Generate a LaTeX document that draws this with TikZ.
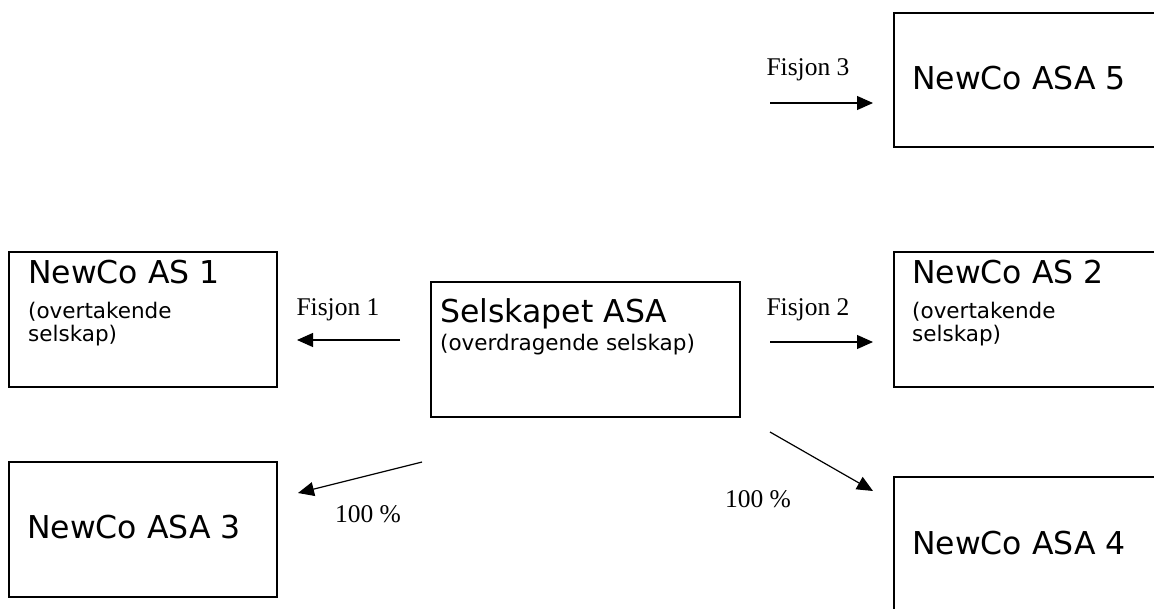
\documentclass[tikz,border=0pt]{standalone}
\usepackage{fontspec}
\setmainfont{Liberation Serif}
\newfontfamily\vsans{DejaVu Sans}
\usetikzlibrary{arrows.meta}
\tikzset{
  box/.style={draw, line width=1.3pt, rectangle, inner sep=0pt},
  title/.style={anchor=base west, inner sep=0pt, font=\vsans\fontsize{31.5}{36}\selectfont},
  sub/.style={anchor=base west, inner sep=0pt, align=left, font=\vsans\fontsize{21.5}{23}\selectfont},
  lbl/.style={anchor=base, inner sep=0pt, font=\fontsize{25.5}{30}\selectfont},
  arr/.style={line width=1.2pt, -{Triangle[length=16pt,width=14pt]}}
}
\begin{document}
\begin{tikzpicture}[x=1pt,y=-1pt]
\useasboundingbox (0,0) rectangle (1154,608);
\clip (0,0) rectangle (1154,608);
% boxes
\node[box, minimum width=286pt, minimum height=134pt] (b5) at (1037,80) {};
\node[box, minimum width=268pt, minimum height=135pt] (b1) at (143,319.5) {};
\node[box, minimum width=309pt, minimum height=135pt] (b0) at (585.5,349.5) {};
\node[box, minimum width=286pt, minimum height=135pt] (b2) at (1037,319.5) {};
\node[box, minimum width=268pt, minimum height=135pt] (b3) at (143,529.5) {};
\node[box, minimum width=286pt, minimum height=150pt] (b4) at (1037,552) {};
% texts
\node[title] (t5) at (912,89) {NewCo ASA 5};
\node[title] (t1) at (28,283) {NewCo AS 1};
\node[sub] (s1) at (28,341) {(overtakende\\selskap)};
\node[title] (t0) at (440,322) {Selskapet ASA};
\node[sub] (s0) at (440,350) {(overdragende selskap)};
\node[title] (t2) at (912,283) {NewCo AS 2};
\node[sub] (s2) at (912,341) {(overtakende\\selskap)};
\node[title] (t3) at (27,538) {NewCo ASA 3};
\node[title] (t4) at (912,554) {NewCo ASA 4};
% connector ends
\coordinate (f3a) at (770,103);
\coordinate (f3b) at (873,103);
\coordinate (f1a) at (400,340);
\coordinate (f1b) at (297,340);
\coordinate (f2a) at (770,342);
\coordinate (f2b) at (873,342);
\coordinate (p3a) at (422,462);
\coordinate (p3b) at (298,493);
\coordinate (p4a) at (770,432);
\coordinate (p4b) at (873,491);
% arrows
\draw[arr] (f3a) -- (f3b);
\draw[arr] (f1a) -- (f1b);
\draw[arr] (f2a) -- (f2b);
\draw[arr] (p3a) -- (p3b);
\draw[arr] (p4a) -- (p4b);
% labels
\node[lbl] (l3) at (808,75) {Fisjon 3};
\node[lbl] (l1) at (338,315) {Fisjon 1};
\node[lbl] (l2) at (808,315) {Fisjon 2};
\node[lbl] (l100a) at (368,522) {100 \%};
\node[lbl] (l100b) at (758,507) {100 \%};
\end{tikzpicture}
\end{document}
